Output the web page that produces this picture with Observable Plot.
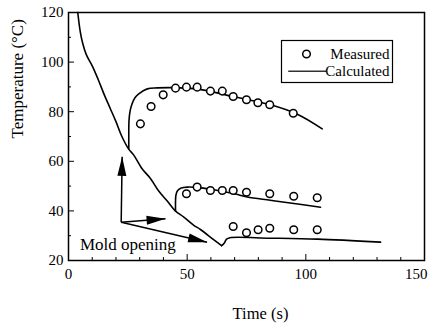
<!DOCTYPE html>
<html><head><meta charset="utf-8">
<script src="https://cdn.jsdelivr.net/npm/d3@7"></script>
<script src="https://cdn.jsdelivr.net/npm/@observablehq/plot@0.6"></script>
<style>
html,body{margin:0;padding:0;background:#fff;}
#chart svg{display:block;}
#chart svg, #chart svg text{font-family:"Liberation Serif","Times New Roman",serif !important;}
</style></head><body><div id="chart"></div>
<script>
// ---- Calculated curves (time s, temperature °C) ----
const coolingTime = [3.9, 5, 6, 7.5, 10, 12.5, 15, 17.5, 20, 22.5, 25.3, 27.5, 31, 34.6, 38, 41.6, 45, 48.6, 52.8, 55.6, 61, 64.5];
const coolingTemp = [120, 112, 107.5, 103, 98.5, 93, 87, 81.5, 76, 70, 65, 62.5, 57, 53, 48, 44, 40, 37.5, 34.2, 32.5, 28.5, 26];
const bottomCalcTime = [64.5, 65.6, 66.6, 68, 85, 105, 131.5];
const bottomCalcTemp = [26, 27, 28.6, 29.2, 29, 28.6, 27.4];
const topCalcTime = [25.4, 25.4, 25.5, 26, 26.8, 28, 29.6, 33.2, 37.4, 44.4, 52.8, 59.8, 69.7, 85.1, 96.4, 106.9];
const topCalcTemp = [65, 70, 76.5, 80.5, 83.2, 85.6, 87.2, 89.2, 89.6, 89.7, 89.3, 88.2, 86, 82.8, 79, 73.1];
const midCalcTime = [45.1, 45.1, 45.3, 46, 47.5, 50, 55, 60, 65, 70, 75.3, 85, 95, 106.2];
const midCalcTemp = [40, 44, 46.5, 48.2, 49.2, 49.6, 49.4, 48.7, 47.8, 46.9, 45.6, 44.3, 43, 41.5];

// ---- Measured points ----
const topMeasTime = [30.3, 34.8, 39.9, 45.1, 49.7, 54.2, 59.8, 64.8, 69.4, 75, 79.8, 84.8, 94.7];
const topMeasTemp = [75.1, 82.1, 86.8, 89.5, 89.9, 89.9, 88.3, 88.3, 86.1, 84.8, 83.6, 82.8, 79.4];
const midMeasTime = [49.7, 54.2, 59.8, 64.8, 69.4, 75, 84.8, 94.9, 104.8];
const midMeasTemp = [46.9, 49.6, 48.2, 48.2, 48.2, 47.5, 46.9, 45.9, 45.3];
const botMeasTime = [69.4, 75, 79.9, 84.8, 94.9, 104.8];
const botMeasTemp = [33.7, 31.2, 32.4, 33, 32.4, 32.4];

// ---- Annotation: "Mold opening" arrows ----
const arrowOrigin = [22.2, 35.4];
const arrowTipTime = [22.6, 40.9, 58.4];
const arrowTipTemp = [61.8, 36.8, 27.4];
const annotationLabel = "Mold opening";
const annotationPos = [4.8, 26.6];

// ---- Ticks & labels ----
const xMajorTicks = [0, 50, 100, 150];
const xMinorTicks = [10, 20, 30, 40, 60, 70, 80, 90, 110, 120, 130, 140];
const yMajorTicks = [20, 40, 60, 80, 100, 120];
const yMinorTicks = [30, 50, 70, 90, 110];
const xLabel = "Time (s)";
const yLabel = "Temperature (°C)";
const legendLabels = ["Measured", "Calculated"];

// build tables
const calcSeries = [
  ["cooling", coolingTime, coolingTemp],
  ["bottom", bottomCalcTime, bottomCalcTemp],
  ["top", topCalcTime, topCalcTemp],
  ["mid", midCalcTime, midCalcTemp]
];
const calcRows = calcSeries.flatMap(([s, ts, Ts]) => ts.map((t, i) => ({series: s, t, T: Ts[i]})));
const measSeries = [[topMeasTime, topMeasTemp], [midMeasTime, midMeasTemp], [botMeasTime, botMeasTemp]];
const measRows = measSeries.flatMap(([ts, Ts]) => ts.map((t, i) => ({t, T: Ts[i]})));
const arrows = arrowTipTime.map((t, i) => ({x1: arrowOrigin[0], y1: arrowOrigin[1], x2: t, y2: arrowTipTemp[i]}));
const xInnerTicks = xMajorTicks.slice(0, -1);
const xLastTick = xMajorTicks.slice(-1);

function triangleMarker(color) {
  return d3.create("svg:marker")
    .attr("viewBox", "-19 -4.5 19 9")
    .attr("markerUnits", "userSpaceOnUse")
    .attr("markerWidth", 19).attr("markerHeight", 9)
    .attr("refX", 0).attr("refY", 0)
    .attr("orient", "auto")
    .attr("overflow", "visible")
    .call(m => m.append("path").attr("d", "M-19,-4.5L0,0L-19,4.5Z").attr("fill", "black").attr("stroke", "none"))
    .node();
}

const serif = "'Liberation Serif', 'Times New Roman', serif";
const chart = Plot.plot({
  width: 433, height: 326,
  marginLeft: 68, marginRight: 9, marginTop: 12, marginBottom: 66,
  x: {domain: [0, 150]},
  y: {domain: [20, 120]},
  style: {fontFamily: serif, fontSize: "15px", color: "black", background: "white"},
  marks: [
    Plot.axisX({ticks: xMinorTicks, tickSize: -3, tickFormat: () => "", label: null}),
    Plot.axisX({ticks: xMajorTicks, tickSize: -6, tickFormat: () => "", label: null}),
    Plot.axisX({ticks: xInnerTicks, tickSize: 0, tickPadding: 8, label: null, fontSize: 15}),
    Plot.axisX({ticks: xLastTick, tickSize: 0, tickPadding: 8, label: null, fontSize: 15, textAnchor: "end", dx: 3}),
    Plot.axisY({ticks: yMinorTicks, tickSize: -3, tickFormat: () => "", label: null}),
    Plot.axisY({ticks: yMajorTicks, tickSize: -6, tickFormat: () => "", label: null}),
    Plot.axisY({ticks: yMajorTicks, tickSize: 0, tickPadding: 5, label: null, fontSize: 15}),
    Plot.frame({strokeWidth: 1.5}),
    Plot.line(calcRows, {x: "t", y: "T", z: "series", stroke: "black", strokeWidth: 1.6, curve: "catmull-rom"}),
    Plot.dot(measRows, {x: "t", y: "T", r: 3.8, stroke: "black", strokeWidth: 1.5, fill: "white"}),
    Plot.link(arrows, {x1: "x1", y1: "y1", x2: "x2", y2: "y2", stroke: "black", strokeWidth: 1.5, markerEnd: triangleMarker}),
    Plot.text([annotationLabel], {x: () => annotationPos[0], y: () => annotationPos[1], text: d => d, textAnchor: "start", fontSize: 17, lineAnchor: "middle"}),
    // axis titles
    Plot.text([xLabel], {frameAnchor: "bottom", text: d => d, dx: 14, dy: 53, fontSize: 16.5, lineAnchor: "middle"}),
    Plot.text([yLabel], {frameAnchor: "left", text: d => d, dx: -51, dy: 2, rotate: -90, fontSize: 17, lineAnchor: "middle"}),
    // legend
    Plot.frame({insetLeft: 213, insetRight: 32, insetTop: 28, insetBottom: 178, strokeWidth: 1.2}),
    Plot.dot([0], {frameAnchor: "top-left", dx: 238, dy: 41.5, r: 3.8, stroke: "black", strokeWidth: 1.5, fill: "white"}),
    Plot.frame({insetLeft: 219.7, insetRight: 98, insetTop: 58.1, insetBottom: 188.7, fill: "black", stroke: "none"}),
    Plot.text([legendLabels[0]], {frameAnchor: "top-left", text: d => d, dx: 321, dy: 42, textAnchor: "end", lineAnchor: "middle", fontSize: 15}),
    Plot.text([legendLabels[1]], {frameAnchor: "top-left", text: d => d, dx: 321, dy: 59, textAnchor: "end", lineAnchor: "middle", fontSize: 15})
  ]
});
document.getElementById("chart").appendChild(chart);
</script>
</body></html>
